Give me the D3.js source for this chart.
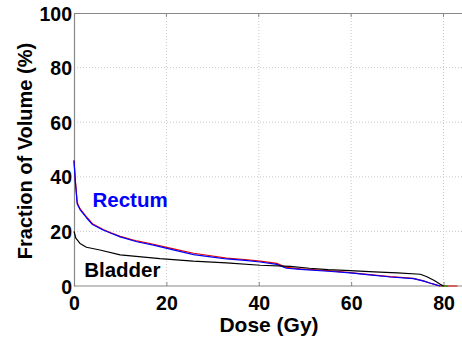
<!DOCTYPE html>
<html><head><meta charset="utf-8">
<script src="https://cdn.jsdelivr.net/npm/d3@7"></script>
<style>body{margin:0;background:#fff}svg{display:block}</style>
</head><body><svg id="c" width="462" height="341"></svg>
<script>
const xTicks = [0, 20, 40, 60, 80];
const yTicks = [0, 20, 40, 60, 80, 100];
const rectumDose = [0, 0.3, 0.7, 1.3, 2, 2.7, 4, 6.3, 8, 10, 13.6, 17.2, 20.8, 25.9, 30, 33, 37, 40.3, 43.9, 46, 49, 55, 59.8, 64, 68.5, 73.5, 75.7, 77, 78.6, 79.3];
const rectumVol  = [46, 38, 30, 28, 26.5, 25, 22.5, 20.5, 19.3, 18, 16.2, 15, 13.5, 11.5, 10.6, 9.9, 9.4, 8.8, 7.9, 6.5, 6.1, 5.4, 4.8, 4.1, 3.3, 2.7, 1.8, 1.1, 0.3, 0];
const redDose = [0, 0.3, 0.7, 1.3, 2, 2.7, 4, 6.3, 8, 10, 13.6, 17.2, 20.8, 25.9, 30, 33, 37, 40.3, 43.9, 46, 49, 55, 59.8, 64, 68.5, 73.5, 75.7, 77, 78.6, 79.3, 83];
const redVol  = [46, 38.5, 30.5, 28.3, 26.8, 25.3, 22.8, 20.7, 19.5, 18.2, 16.5, 15.3, 13.9, 12, 11, 10.2, 9.7, 9.1, 8.3, 6.8, 6.3, 5.6, 4.9, 4.2, 3.4, 2.8, 1.9, 1.1, 0.3, 0, 0];
const bladderDose = [0, 0.4, 1.3, 2.7, 5.6, 10, 18.6, 25.8, 33, 40.3, 46.8, 51, 55, 59.8, 65, 70, 75, 76.4, 78, 79.3, 80];
const bladderVol  = [20, 17.5, 15.6, 14.2, 13.2, 11.4, 10, 9.1, 8.5, 7.6, 7.2, 6.5, 6, 5.6, 5.2, 4.8, 4.3, 3.4, 2, 0.6, 0];
const greenDose = [79.5, 81];
const greenVol = [0, 0];

const svg = d3.select('#c');
const x = d3.scaleLinear().domain([0, 84]).range([74, 462]);
const y = d3.scaleLinear().domain([0, 100]).range([286, 13]);
const font = '"Liberation Sans", Arial, Helvetica, sans-serif';

// grid
svg.append('g').selectAll('line').data(xTicks.slice(1)).join('line')
  .attr('x1', d => x(d)).attr('x2', d => x(d)).attr('y1', y(0)).attr('y2', y(100))
  .attr('stroke', '#c8c8c8').attr('stroke-dasharray', '1,2').attr('stroke-width', 1);
svg.append('g').selectAll('line').data(yTicks.slice(1, -1)).join('line')
  .attr('x1', x(0)).attr('x2', 462).attr('y1', d => y(d)).attr('y2', d => y(d))
  .attr('stroke', '#c8c8c8').attr('stroke-dasharray', '1,2').attr('stroke-width', 1);

// top border
svg.append('line').attr('x1', x(0)).attr('x2', 462).attr('y1', y(100)+0.5).attr('y2', y(100)+0.5)
  .attr('stroke', '#888').attr('stroke-width', 1);
// top ticks
svg.append('g').selectAll('line').data(xTicks.slice(1)).join('line')
  .attr('x1', d => x(d)).attr('x2', d => x(d)).attr('y1', y(100)).attr('y2', y(100)+4)
  .attr('stroke', '#888');

// axes
const xAxis = svg.append('g').attr('transform', `translate(0,${y(0)})`)
  .call(d3.axisBottom(x).tickValues(xTicks).tickSize(-4).tickPadding(10).tickFormat(d3.format('d')));
const yAxis = svg.append('g').attr('transform', `translate(${x(0)},0)`)
  .call(d3.axisLeft(y).tickValues(yTicks).tickSize(0).tickPadding(2).tickFormat(d3.format('d')));
[xAxis, yAxis].forEach(a => {
  a.select('.domain').attr('stroke', '#888').attr('stroke-width', 1.2);
  a.selectAll('.tick line').attr('stroke', '#888');
  a.selectAll('text').attr('font-family', font).attr('font-weight', 'bold')
    .attr('font-size', 19.5).attr('fill', '#000');
});
xAxis.select('.domain').attr('d', `M${x(0)},0H462`);
yAxis.selectAll('.tick text').attr('dy', '0.36em');

// lines
const line = d3.line().x(d => x(d[0])).y(d => y(d[1]));
const draw = (dx, dv, col, w) => svg.append('path')
  .datum(d3.zip(dx, dv)).attr('d', line).attr('fill', 'none')
  .attr('stroke', col).attr('stroke-width', w).attr('stroke-linejoin', 'round');
draw(redDose, redVol, '#e00000', 1.2);
draw(rectumDose, rectumVol, '#0000ff', 1.2);
draw(greenDose, greenVol, '#00a000', 1.2);
draw(bladderDose, bladderVol, '#000', 1.2);

// labels
svg.append('text').attr('x', x(4)).attr('y', y(29)).text('Rectum')
  .attr('font-family', font).attr('font-weight', 'bold').attr('font-size', 20.5).attr('fill', '#0000ff');
svg.append('text').attr('x', x(2.2)).attr('y', y(3.3)).text('Bladder')
  .attr('font-family', font).attr('font-weight', 'bold').attr('font-size', 20.5).attr('fill', '#000');

svg.append('text').attr('x', 269).attr('y', 332).attr('text-anchor', 'middle').text('Dose (Gy)')
  .attr('font-family', font).attr('font-weight', 'bold').attr('font-size', 21);
svg.append('text').attr('transform', 'translate(32,151) rotate(-90)').attr('text-anchor', 'middle')
  .text('Fraction of Volume (%)')
  .attr('font-family', font).attr('font-weight', 'bold').attr('font-size', 20);
</script></body></html>
